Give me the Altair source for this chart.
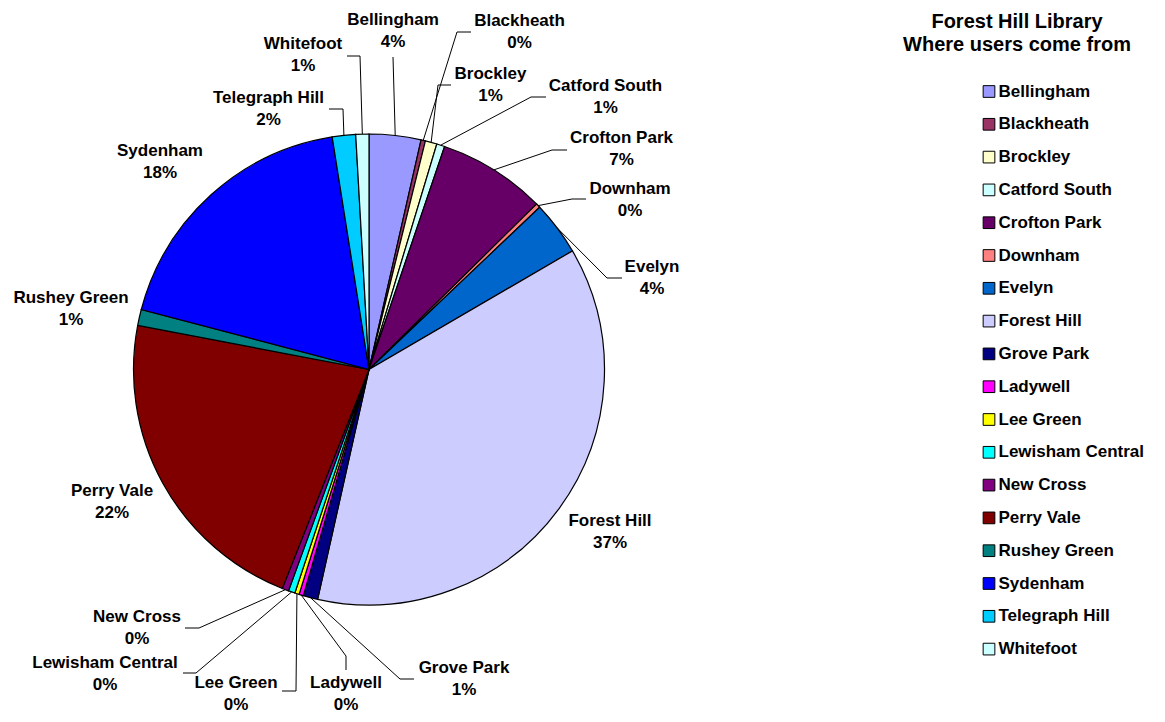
import altair as alt
import pandas as pd

# ---------------- data ----------------
NAMES = ["Bellingham", "Blackheath", "Brockley", "Catford South", "Crofton Park",
         "Downham", "Evelyn", "Forest Hill", "Grove Park", "Ladywell", "Lee Green",
         "Lewisham Central", "New Cross", "Perry Vale", "Rushey Green", "Sydenham",
         "Telegraph Hill", "Whitefoot"]
SHARES = [3.55, 0.3, 0.8, 0.55, 7.4, 0.3, 3.7, 36.9, 1.0, 0.3, 0.3,
          0.45, 0.45, 22.0, 1.1, 18.4, 1.6, 0.9]
PCT_LABELS = ["4%", "0%", "1%", "1%", "7%", "0%", "4%", "37%", "1%", "0%", "0%",
              "0%", "0%", "22%", "1%", "18%", "2%", "1%"]
COLORS = ["#9999FF", "#993366", "#FFFFCC", "#CCFFFF", "#660066", "#FF8080",
          "#0066CC", "#CCCCFF", "#000080", "#FF00FF", "#FFFF00", "#00FFFF",
          "#800080", "#800000", "#008080", "#0000FF", "#00CCFF", "#CCFFFF"]
TITLE_LINES = ["Forest Hill Library", "Where users come from"]

# ---------------- layout (page pixels) ----------------
M = 8                      # page margin
CX, CY, R = 369 - M, 369.5 - M, 235.5
FONT = "Liberation Sans"

# label anchor: centre x, first-line baseline y
LABEL_POS = {
    "Bellingham": (393, 25), "Blackheath": (519.5, 26), "Brockley": (490.5, 79),
    "Catford South": (605.5, 91), "Crofton Park": (621.5, 143), "Downham": (630, 194),
    "Evelyn": (652, 272), "Forest Hill": (610, 526), "Grove Park": (464, 673),
    "Ladywell": (346, 688), "Lee Green": (236, 688), "Lewisham Central": (105, 668),
    "New Cross": (137, 622), "Perry Vale": (112, 496), "Rushey Green": (71, 303),
    "Sydenham": (160, 156), "Telegraph Hill": (268.5, 103), "Whitefoot": (303, 49),
}
# leader: label end point, elbow point (the last segment goes to the slice edge)
LEADER = {
    "Bellingham": ((393, 57), (393, 57)), "Blackheath": ((471, 32), (457, 32)),
    "Brockley": ((451, 85), (438, 85)), "Catford South": ((546, 97), (531, 97)),
    "Crofton Park": ((567, 150), (552, 150)), "Downham": ((586, 199), (572, 199)),
    "Evelyn": ((622, 278), (607, 278)), "Grove Park": ((414, 679), (400, 679)),
    "Ladywell": ((346, 670), (346, 656)), "Lee Green": ((282, 691), (296, 691)),
    "Lewisham Central": ((183, 673), (196, 673)), "New Cross": ((185, 628), (199, 628)),
    "Telegraph Hill": ((329, 109), (343, 109)), "Whitefoot": ((347, 56), (360, 56)),
}

rows = []
for i, (n, s, p) in enumerate(zip(NAMES, SHARES, PCT_LABELS)):
    lx, ly = LABEL_POS[n]
    row = {"idx": i, "name": n, "share": s, "label": f"{n}\n{p}",
           "lx": lx - M, "ly": ly - M}
    if n in LEADER:
        (ex, ey), (bx, by) = LEADER[n]
        row.update({"endx": ex - M, "endy": ey - M, "elbx": bx - M, "elby": by - M})
    else:
        row.update({"endx": None, "endy": None, "elbx": None, "elby": None})
    rows.append(row)
df = pd.DataFrame(rows)

base = alt.Chart(df)

pie = base.mark_arc(outerRadius=R, stroke="black", strokeWidth=1.2).encode(
    theta=alt.Theta("share:Q", stack=True),
    order=alt.Order("idx:Q"),
    color=alt.Color(
        "name:N",
        scale=alt.Scale(domain=NAMES, range=COLORS),
        legend=alt.Legend(
            title=None, orient="none", legendX=972.5, legendY=75,
            symbolType="square", symbolSize=137, symbolStrokeColor="black",
            symbolStrokeWidth=1, symbolOpacity=1,
            labelFont=FONT, labelFontSize=17, labelFontWeight="bold",
            labelColor="black", labelOffset=1, labelLimit=400,
            rowPadding=14.8, padding=0,
        ),
    ),
    x=alt.value(CX),
    y=alt.value(CY),
)

leader_base = base.transform_window(
    cum="sum(share)", sort=[alt.SortField("idx")], frame=[None, 0]
).transform_joinaggregate(
    total="sum(share)"
).transform_calculate(
    ang="(datum.cum - datum.share / 2) / datum.total * 2 * PI",
).transform_calculate(
    edgex=f"{CX} + {R} * sin(datum.ang)",
    edgey=f"{CY} - {R} * cos(datum.ang)",
).transform_filter("isValid(datum.endx)")

seg1 = leader_base.mark_rule(color="black", strokeWidth=1).encode(
    x=alt.X("endx:Q", scale=None), y=alt.Y("endy:Q", scale=None),
    x2="elbx:Q", y2="elby:Q",
)
seg2 = leader_base.mark_rule(color="black", strokeWidth=1).encode(
    x=alt.X("elbx:Q", scale=None), y=alt.Y("elby:Q", scale=None),
    x2="edgex:Q", y2="edgey:Q",
)

labels = base.mark_text(
    font=FONT, fontSize=17, fontWeight="bold", color="black",
    align="center", baseline="alphabetic", lineBreak="\n", lineHeight=22,
).encode(
    x=alt.X("lx:Q", scale=None), y=alt.Y("ly:Q", scale=None), text="label:N",
)

title = alt.Chart(pd.DataFrame({"t": ["\n".join(TITLE_LINES)]})).mark_text(
    font=FONT, fontSize=20, fontWeight="bold", color="black",
    align="center", baseline="alphabetic", lineBreak="\n", lineHeight=23.4,
).encode(text="t:N", x=alt.value(1017 - M), y=alt.value(27.5 - M))

chart = alt.layer(pie, seg1, seg2, labels, title).properties(
    width=1149, height=706,
    autosize=alt.AutoSizeParams(type="none"),
    padding=0,
).configure_view(stroke=None)

chart.save("out.html", embed_options={"renderer": "svg", "actions": False})
